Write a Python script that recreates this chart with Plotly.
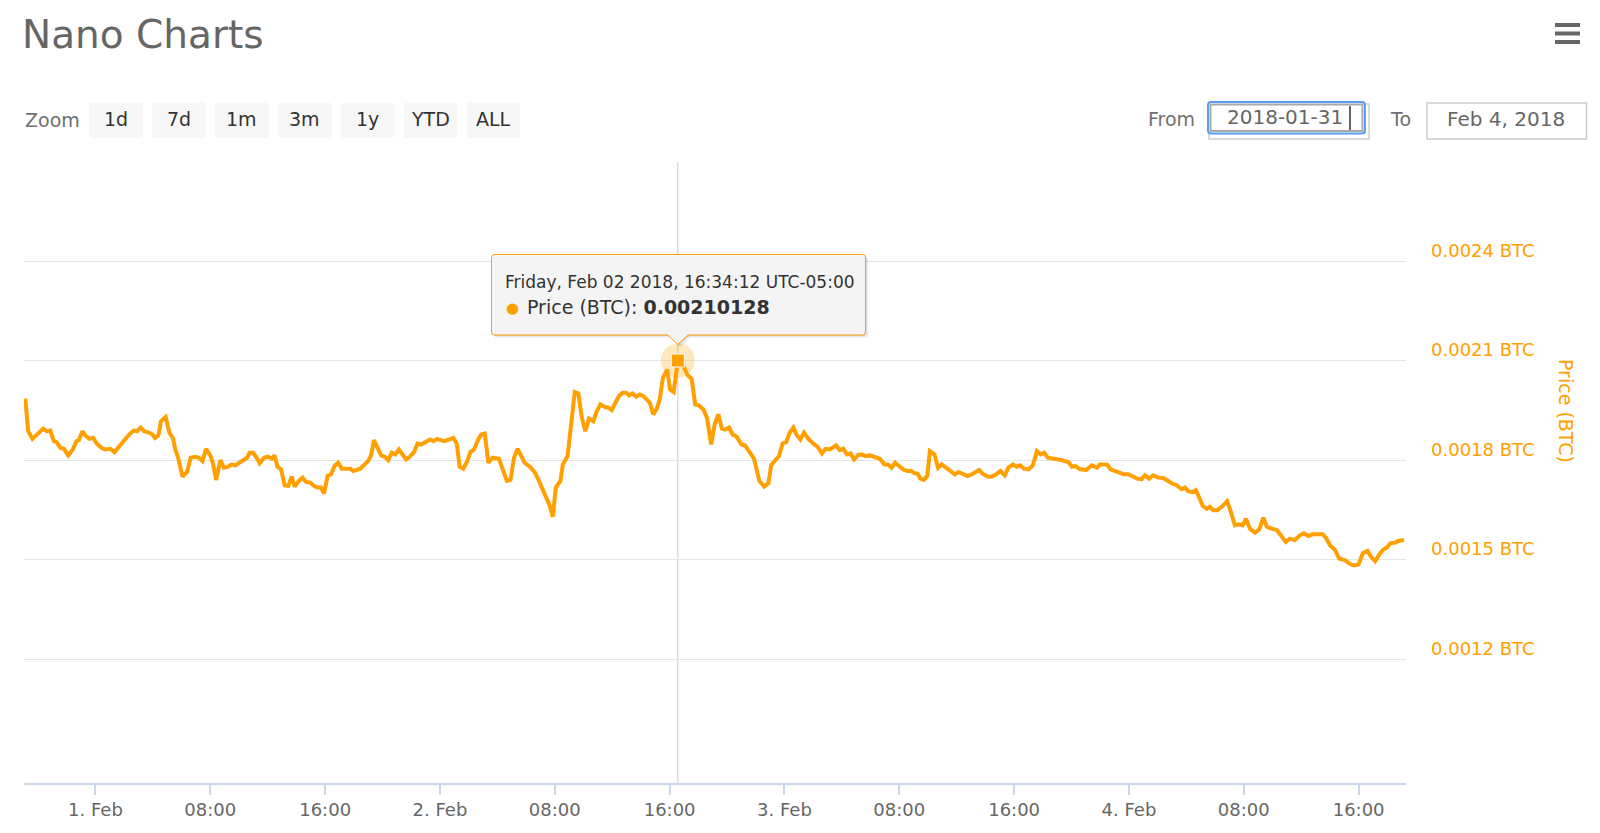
import plotly.graph_objects as go
import pandas as pd

# ---------------- data ----------------
hours_from_feb1 = [
    -4.89, -4.69, -4.39, -4.20, -3.90, -3.64, -3.40, -3.15, -2.90, -2.70,
    -2.45, -2.20, -1.90, -1.58, -1.33, -1.16, -0.91, -0.66, -0.41, -0.16,
    0.08, 0.41, 0.66, 1.03, 1.33, 1.65, 1.90, 2.28, 2.65, 2.90,
    3.15, 3.39, 3.72, 3.97, 4.15, 4.39, 4.56, 4.89, 5.14, 5.39,
    5.56, 5.76, 6.06, 6.38, 6.63, 6.95, 7.21, 7.46, 7.70, 8.00,
    8.20, 8.40, 8.70, 8.95, 9.25, 9.49, 9.74, 10.04, 10.36, 10.56,
    10.74, 10.99, 11.23, 11.44, 11.74, 12.03, 12.28, 12.48, 12.68, 12.93,
    13.18, 13.43, 13.67, 13.87, 14.17, 14.43, 14.67, 14.97, 15.22, 15.47,
    15.71, 15.92, 16.17, 16.41, 16.66, 16.91, 17.16, 17.51, 17.76, 17.96,
    18.20, 18.45, 18.75, 19.00, 19.20, 19.40, 19.65, 19.90, 20.15, 20.40,
    20.64, 20.89, 21.14, 21.39, 21.64, 21.89, 22.19, 22.44, 22.68, 22.98,
    23.31, 23.55, 23.80, 24.06, 24.30, 24.63, 24.93, 25.17, 25.37, 25.62,
    25.87, 26.12, 26.37, 26.67, 26.87, 27.12, 27.37, 27.67, 28.11, 28.41,
    28.66, 28.91, 29.16, 29.41, 29.65, 29.90, 30.28, 30.65, 30.95, 31.27,
    31.64, 31.86,
    32.07, 32.39, 32.56, 32.89, 33.14, 33.39, 33.64, 33.88, 34.13, 34.38,
    34.68, 34.93, 35.18, 35.43, 35.73, 35.97, 36.22, 36.47, 36.72, 36.97,
    37.17, 37.42, 37.67, 37.92, 38.17, 38.41, 38.62, 38.86, 39.11, 39.31,
    39.53, 39.83, 40.03, 40.28, 40.57, 41.02, 41.27, 41.53, 41.78, 42.02,
    42.35, 42.60, 42.89, 43.14, 43.39, 43.64, 43.89, 44.14, 44.39, 44.68,
    45.01, 45.26, 45.51, 45.88, 46.25, 46.58, 46.88, 47.07, 47.37, 47.62,
    47.87, 48.12, 48.37, 48.62, 48.87, 49.11, 49.36, 49.67, 49.99, 50.31,
    50.61, 50.86, 51.16, 51.41, 51.60, 51.85, 52.10, 52.35, 52.60, 52.85,
    53.15, 53.40, 53.64, 53.97, 54.34, 54.64, 54.96, 55.21, 55.46, 55.71,
    56.04, 56.33, 56.58, 56.83, 57.08, 57.28, 57.46, 57.70, 57.95, 58.13,
    58.45, 58.70, 58.95, 59.27, 59.57, 59.87, 60.12, 60.44, 60.77, 61.06,
    61.31, 61.56, 61.86, 62.18, 62.43, 62.75, 63.05, 63.35, 63.60, 63.92,
    64.17, 64.43, 64.67, 65.00, 65.30, 65.59, 65.84, 66.09, 66.35, 66.79,
    67.28, 67.78, 68.03, 68.28, 68.58, 69.03, 69.40, 69.77,
    69.97, 70.20, 70.48, 70.72, 71.02, 71.32, 71.65, 71.95, 72.25, 72.57,
    72.88, 73.11, 73.41, 73.69, 74.04, 74.38, 74.73, 74.97, 75.32, 75.67,
    75.90, 76.13, 76.43, 76.66, 76.89, 77.13, 77.41, 77.64, 77.87, 78.15,
    78.46, 78.84, 79.08, 79.38, 79.68, 79.92, 80.15, 80.43, 80.78, 81.08,
    81.36, 81.60, 81.95, 82.30, 82.65, 82.93, 83.21, 83.56, 83.91, 84.19,
    84.49, 84.80, 85.07, 85.49, 85.72, 86.00, 86.35, 86.65, 87.05, 87.35,
    87.68, 87.99, 88.29, 88.62, 88.85, 89.15, 89.45, 89.74, 89.97, 90.20,
    90.55, 90.78, 91.16,
]

price_btc = [
    0.001986, 0.001888, 0.001865, 0.001873, 0.001884, 0.001896, 0.001888, 0.001890, 0.001858, 0.001855,
    0.001838, 0.001835, 0.001815, 0.001833, 0.001858, 0.001861, 0.001888, 0.001873, 0.001865, 0.001868,
    0.001851, 0.001838, 0.001833, 0.001835, 0.001825, 0.001843, 0.001858, 0.001875, 0.001890, 0.001888,
    0.001899, 0.001888, 0.001884, 0.001878, 0.001868, 0.001876, 0.001918, 0.001931, 0.001884, 0.001868,
    0.001833, 0.001808, 0.001751, 0.001765, 0.001808, 0.001811, 0.001808, 0.001798, 0.001835, 0.001815,
    0.001788, 0.001741, 0.001801, 0.001778, 0.001781, 0.001788, 0.001785, 0.001793, 0.001801, 0.001808,
    0.001823, 0.001823, 0.001808, 0.001791, 0.001808, 0.001811, 0.001805, 0.001815, 0.001781, 0.001773,
    0.001725, 0.001723, 0.001751, 0.001721, 0.001738, 0.001748, 0.001735, 0.001733, 0.001723, 0.001718,
    0.001718, 0.001700, 0.001753, 0.001758, 0.001783, 0.001793, 0.001775, 0.001775, 0.001775, 0.001768,
    0.001773, 0.001775, 0.001788, 0.001798, 0.001815, 0.001861, 0.001838, 0.001815, 0.001811, 0.001801,
    0.001823, 0.001818, 0.001833, 0.001818, 0.001803, 0.001811, 0.001825, 0.001851, 0.001848, 0.001855,
    0.001863, 0.001858, 0.001865, 0.001861, 0.001858, 0.001863, 0.001868, 0.001851, 0.001781, 0.001775,
    0.001795, 0.001825, 0.001833, 0.001863, 0.001878, 0.001881, 0.001793, 0.001808, 0.001805, 0.001768,
    0.001738, 0.001741, 0.001808, 0.001835, 0.001811, 0.001793, 0.001780, 0.001761, 0.001733, 0.001704,
    0.001664, 0.001630,
    0.001718, 0.001738, 0.001788, 0.001813, 0.001903, 0.002006, 0.002002, 0.001929, 0.001888, 0.001926,
    0.001918, 0.001949, 0.001969, 0.001962, 0.001959, 0.001952, 0.001974, 0.001994, 0.002004, 0.002004,
    0.001996, 0.002002, 0.001992, 0.001999, 0.001994, 0.001982, 0.001974, 0.001939, 0.001956, 0.001984,
    0.002049, 0.002074, 0.002014, 0.002006, 0.00210128, 0.002079, 0.002056, 0.002046, 0.001969, 0.001966,
    0.001954, 0.001929, 0.001848, 0.001909, 0.001939, 0.001896, 0.001893, 0.001899, 0.001878, 0.001871,
    0.001848, 0.001845, 0.001828, 0.001805, 0.001738, 0.001721, 0.001731, 0.001785, 0.001801, 0.001813,
    0.001851, 0.001855, 0.001884, 0.001899, 0.001875, 0.001863, 0.001884, 0.001865, 0.001851, 0.001841,
    0.001821, 0.001835, 0.001833, 0.001838, 0.001845, 0.001831, 0.001835, 0.001818, 0.001821, 0.001803,
    0.001817, 0.001818, 0.001813, 0.001815, 0.001811, 0.001805, 0.001788, 0.001788, 0.001778, 0.001793,
    0.001781, 0.001771, 0.001768, 0.001768, 0.001761, 0.001760, 0.001745, 0.001741, 0.001753, 0.001828,
    0.001818, 0.001778, 0.001788, 0.001778, 0.001768, 0.001758, 0.001765, 0.001758, 0.001753, 0.001758,
    0.001765, 0.001771, 0.001758, 0.001751, 0.001751, 0.001758, 0.001768, 0.001755, 0.001778, 0.001788,
    0.001781, 0.001785, 0.001775, 0.001773, 0.001785, 0.001828, 0.001818, 0.001823, 0.001808, 0.001805,
    0.001801, 0.001795, 0.001781, 0.001783, 0.001773, 0.001771, 0.001785, 0.001778,
    0.001788, 0.001788, 0.001787, 0.001773, 0.001768, 0.001761, 0.001758, 0.001758, 0.001751, 0.001745,
    0.001743, 0.001755, 0.001745, 0.001755, 0.001748, 0.001747, 0.001738, 0.001731, 0.001725, 0.001713,
    0.001718, 0.001707, 0.001704, 0.001710, 0.001688, 0.001664, 0.001654, 0.001660, 0.001650, 0.001650,
    0.001660, 0.001677, 0.001647, 0.001604, 0.001607, 0.001604, 0.001624, 0.001594, 0.001582, 0.001592,
    0.001627, 0.001600, 0.001594, 0.001590, 0.001570, 0.001554, 0.001564, 0.001560, 0.001574, 0.001580,
    0.001572, 0.001577, 0.001577, 0.001577, 0.001567, 0.001544, 0.001530, 0.001504, 0.001499, 0.001489,
    0.001483, 0.001486, 0.001520, 0.001527, 0.001510, 0.001496, 0.001517, 0.001532, 0.001537, 0.001550,
    0.001552, 0.001557, 0.001560,
]

x_tick_hours = [0, 8, 16, 24, 32, 40, 48, 56, 64, 72, 80, 88]
x_tick_labels = ["1. Feb", "08:00", "16:00", "2. Feb", "08:00", "16:00",
                 "3. Feb", "08:00", "16:00", "4. Feb", "08:00", "16:00"]
y_tick_vals = [0.0012, 0.0015, 0.0018, 0.0021, 0.0024, 0.0027]
y_tick_labels = ["0.0012 BTC", "0.0015 BTC", "0.0018 BTC", "0.0021 BTC", "0.0024 BTC", ""]
zoom_buttons = ["1d", "7d", "1m", "3m", "1y", "YTD", "ALL"]
from_text = "2018-01-31"
to_text = "Feb 4, 2018"
title_text = "Nano Charts"
series_name = "Price (BTC)"

# ---------------- layout constants (page pixel coords) ----------------
PAGE_W, PAGE_H = 1600, 833
OFF = 8  # default body margin of the html page
W, H = PAGE_W - 2 * OFF, PAGE_H - 2 * OFF
L, R, T, B = 24, 1406, 162, 783
X_RANGE_HOURS = (-4.98, 91.30)
Y_RANGE = (0.000827, 0.0027)
FONT = "DejaVu Sans"
ORANGE = "#ffa000"
GREY = "#666666"

base = pd.Timestamp("2018-02-01")
times = [(base + pd.Timedelta(hours=h)).round("s") for h in hours_from_feb1]


def px(x):
    return (x - L) / (R - L)


def py(y):
    return (B - y) / (B - T)


def path_from(pts):
    s = ""
    for p in pts:
        coords = p[1:]
        parts = [f"{px(coords[i]):.5f},{py(coords[i+1]):.5f}" for i in range(0, len(coords), 2)]
        s += p[0] + " " + " ".join(parts) + " "
    return s + "Z"


def rrect_path(x0, y0, x1, y1, r):
    return path_from([
        ("M", x0 + r, y0), ("L", x1 - r, y0), ("Q", x1, y0, x1, y0 + r),
        ("L", x1, y1 - r), ("Q", x1, y1, x1 - r, y1), ("L", x0 + r, y1),
        ("Q", x0, y1, x0, y1 - r), ("L", x0, y0 + r), ("Q", x0, y0, x0 + r, y0),
    ])


fig = go.Figure()

fig.add_trace(go.Scatter(
    x=times, y=price_btc, mode="lines", name=series_name,
    line=dict(color=ORANGE, width=4), hoverinfo="skip", showlegend=False,
))

# hovered point (the maximum)
hi = price_btc.index(max(price_btc))
t_hover = times[hi]
p_hover = price_btc[hi]
fig.add_trace(go.Scatter(
    x=[t_hover], y=[p_hover], mode="markers", showlegend=False, hoverinfo="skip",
    marker=dict(size=34, color="rgba(255,160,0,0.25)", line=dict(width=0)),
))
fig.add_trace(go.Scatter(
    x=[t_hover], y=[p_hover], mode="markers", showlegend=False, hoverinfo="skip",
    marker=dict(size=13, symbol="square", color=ORANGE, line=dict(color="white", width=1)),
))

shapes = []
annotations = []

# crosshair
shapes.append(dict(type="line", xref="x", yref="paper", x0=t_hover, x1=t_hover,
                   y0=0, y1=1, line=dict(color="#cccccc", width=1), layer="below"))

# pixel position of hovered point (from the axis mapping)
hx = L + (hours_from_feb1[hi] - X_RANGE_HOURS[0]) / (X_RANGE_HOURS[1] - X_RANGE_HOURS[0]) * (R - L)
hy = T + (Y_RANGE[1] - p_hover) / (Y_RANGE[1] - Y_RANGE[0]) * (B - T)

# tooltip
bx0, bx1, by0, by1 = 491.5, 865.5, 254.5, 335
tip_y = hy - 16
r = 3


def tooltip_path(dx=0, dy=0):
    x0, x1, y0, y1 = bx0 + dx, bx1 + dx, by0 + dy, by1 + dy
    return path_from([
        ("M", x0 + r, y0), ("L", x1 - r, y0), ("Q", x1, y0, x1, y0 + r),
        ("L", x1, y1 - r), ("Q", x1, y1, x1 - r, y1),
        ("L", hx + dx + 10, y1), ("L", hx + dx, tip_y + dy), ("L", hx + dx - 10, y1),
        ("L", x0 + r, y1), ("Q", x0, y1, x0, y1 - r), ("L", x0, y0 + r),
        ("Q", x0, y0, x0 + r, y0),
    ])


for k, a in [(3, 0.04), (2, 0.06), (1, 0.08)]:
    shapes.append(dict(type="path", xref="paper", yref="paper", path=tooltip_path(k, k),
                       fillcolor=f"rgba(0,0,0,{a})", line=dict(width=0), layer="above"))
shapes.append(dict(type="path", xref="paper", yref="paper", path=tooltip_path(),
                   fillcolor="rgba(247,247,247,0.9)", line=dict(color=ORANGE, width=1), layer="above"))

header = t_hover.strftime("%A, %b %d %Y, %H:%M:%S") + " UTC-05:00"
annotations.append(dict(xref="paper", yref="paper", x=px(503), y=py(281.5), xanchor="left",
                        yanchor="middle", text=header, showarrow=False,
                        font=dict(family=FONT, size=17, color="#333333")))
annotations.append(dict(xref="paper", yref="paper", x=px(512.5), y=py(307.5), xanchor="center",
                        yanchor="middle", text="●", showarrow=False,
                        font=dict(family=FONT, size=15, color=ORANGE)))
annotations.append(dict(xref="paper", yref="paper", x=px(525), y=py(306.5), xanchor="left",
                        yanchor="middle", text=f"{series_name}: <b>{p_hover:.8f}</b>", showarrow=False,
                        font=dict(family=FONT, size=19, color="#333333")))

# title
annotations.append(dict(xref="paper", yref="paper", x=px(20), y=py(34.5), xanchor="left",
                        yanchor="middle", text=title_text, showarrow=False,
                        font=dict(family=FONT, size=39, color=GREY)))

# hamburger menu
for yb in [25, 33.5, 42]:
    shapes.append(dict(type="line", xref="paper", yref="paper", x0=px(1555), x1=px(1580),
                       y0=py(yb), y1=py(yb), line=dict(color="#666666", width=4)))

# zoom buttons
annotations.append(dict(xref="paper", yref="paper", x=px(23), y=py(120.5), xanchor="left",
                        yanchor="middle", text="Zoom", showarrow=False,
                        font=dict(family=FONT, size=19, color="#707070")))
for i, lab in enumerate(zoom_buttons):
    x0 = 89.3 + i * 62.9
    x1 = x0 + 53.6
    shapes.append(dict(type="path", xref="paper", yref="paper",
                       path=rrect_path(x0, 102.5, x1, 138, 3),
                       fillcolor="#f7f7f7", line=dict(width=0)))
    annotations.append(dict(xref="paper", yref="paper", x=px((x0 + x1) / 2), y=py(119.5),
                            xanchor="center", yanchor="middle", text=lab, showarrow=False,
                            font=dict(family=FONT, size=19, color="#333333")))

# From / To inputs
annotations.append(dict(xref="paper", yref="paper", x=px(1145.5), y=py(119.5), xanchor="left",
                        yanchor="middle", text="From", showarrow=False,
                        font=dict(family=FONT, size=19, color="#707070")))
shapes.append(dict(type="rect", xref="paper", yref="paper", x0=px(1209), x1=px(1369),
                   y0=py(104), y1=py(139), line=dict(color="#d0d0d0", width=1.5)))
shapes.append(dict(type="path", xref="paper", yref="paper",
                   path=rrect_path(1208, 102, 1365, 133.5, 3),
                   fillcolor="white", line=dict(color="#5b9cf5", width=2)))
shapes.append(dict(type="rect", xref="paper", yref="paper", x0=px(1210.5), x1=px(1362.5),
                   y0=py(104.5), y1=py(131), line=dict(color="#a9a9a9", width=2)))
shapes.append(dict(type="line", xref="paper", yref="paper", x0=px(1350), x1=px(1350),
                   y0=py(106), y1=py(130), line=dict(color="#333333", width=1.5)))
annotations.append(dict(xref="paper", yref="paper", x=px(1285), y=py(117.5), xanchor="center",
                        yanchor="middle", text=from_text, showarrow=False,
                        font=dict(family=FONT, size=20, color="#666666")))
annotations.append(dict(xref="paper", yref="paper", x=px(1388), y=py(119.5), xanchor="left",
                        yanchor="middle", text="To", showarrow=False,
                        font=dict(family=FONT, size=19, color="#707070")))
shapes.append(dict(type="rect", xref="paper", yref="paper", x0=px(1427), x1=px(1586.5),
                   y0=py(103), y1=py(139), line=dict(color="#cccccc", width=1.5)))
annotations.append(dict(xref="paper", yref="paper", x=px(1506.5), y=py(119.5), xanchor="center",
                        yanchor="middle", text=to_text, showarrow=False,
                        font=dict(family=FONT, size=20, color="#666666")))

# y-axis title
annotations.append(dict(xref="paper", yref="paper", x=px(1566), y=py(411), xanchor="center",
                        yanchor="middle", text=series_name, textangle=90, showarrow=False,
                        font=dict(family=FONT, size=19, color=ORANGE)))

fig.update_layout(
    width=W, height=H, autosize=False,
    margin=dict(l=L - OFF, r=(PAGE_W - OFF) - R, t=T - OFF, b=(PAGE_H - OFF) - B, pad=0,
                autoexpand=False),
    paper_bgcolor="white", plot_bgcolor="white",
    font=dict(family=FONT, color=GREY),
    showlegend=False,
    shapes=shapes, annotations=annotations,
    hovermode=False,
)

fig.update_xaxes(
    type="date", automargin=False,
    range=[base + pd.Timedelta(hours=X_RANGE_HOURS[0]), base + pd.Timedelta(hours=X_RANGE_HOURS[1])],
    tickvals=[base + pd.Timedelta(hours=h) for h in x_tick_hours],
    ticktext=x_tick_labels,
    showgrid=False, zeroline=False,
    showline=True, linecolor="#ccd6eb", linewidth=1.5,
    ticks="outside", ticklen=10, tickcolor="#ccd6eb", tickwidth=1.5,
    tickfont=dict(family=FONT, size=18, color=GREY),
    ticklabelstandoff=0,
)
fig.update_yaxes(
    range=list(Y_RANGE), side="right", automargin=False,
    tickvals=y_tick_vals, ticktext=y_tick_labels,
    showgrid=True, gridcolor="#e6e6e6", gridwidth=1,
    zeroline=False, showline=False, ticks="",
    tickfont=dict(family=FONT, size=18, color=ORANGE),
    ticklabelstandoff=24, ticklabelshift=-11,
)

fig.write_html("out.html")
